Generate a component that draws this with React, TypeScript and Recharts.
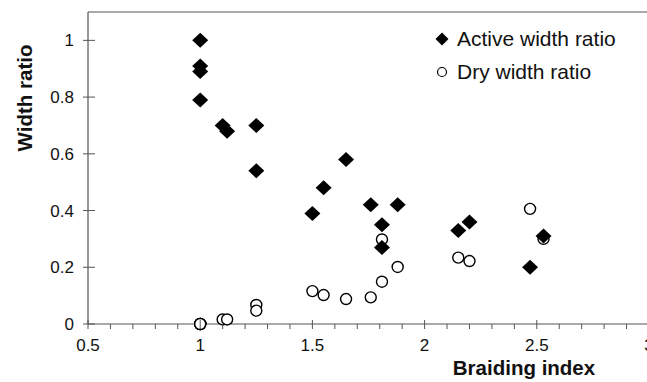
import { ReferenceLine, Scatter, ScatterChart, XAxis, YAxis } from "recharts";

type Pt = { x: number; y: number };

const seriesNames = ["Active width ratio", "Dry width ratio"];

const activeX = [1, 1, 1, 1, 1.1, 1.12, 1.25, 1.25, 1.5, 1.55, 1.65, 1.76, 1.81, 1.81, 1.88, 2.15, 2.2, 2.47, 2.53];
const activeY = [1.0, 0.91, 0.89, 0.79, 0.7, 0.68, 0.7, 0.54, 0.39, 0.48, 0.58, 0.42, 0.35, 0.27, 0.42, 0.33, 0.36, 0.2, 0.31];

const dryX = [1, 1, 1, 1, 1.1, 1.12, 1.25, 1.25, 1.5, 1.55, 1.65, 1.76, 1.81, 1.81, 1.88, 2.15, 2.2, 2.47, 2.53];
const dryY = [0, 0, 0, 0, 0.016, 0.016, 0.067, 0.047, 0.116, 0.102, 0.088, 0.094, 0.149, 0.298, 0.201, 0.234, 0.222, 0.406, 0.3];

const xTicks = [0.5, 0.6, 0.7, 0.8, 0.9, 1, 1.1, 1.2, 1.3, 1.4, 1.5, 1.6, 1.7, 1.8, 1.9, 2, 2.1, 2.2, 2.3, 2.4, 2.5, 2.6, 2.7, 2.8, 2.9, 3];
const xLabels = [0.5, 1, 1.5, 2, 2.5, 3];
const yTicks = [0, 0.2, 0.4, 0.6, 0.8, 1];

const activeData: Pt[] = activeX.map((x, i) => ({ x, y: activeY[i] }));
const dryData: Pt[] = dryX.map((x, i) => ({ x, y: dryY[i] }));

const font = "'Liberation Sans', Arial, sans-serif";
const axisColor = "#555";

const Diamond = (props: any) => {
  const { cx, cy } = props;
  if (cx == null || cy == null) return null;
  return <polygon points={`${cx},${cy - 7.5} ${cx + 8},${cy} ${cx},${cy + 7.5} ${cx - 8},${cy}`} fill="#000" />;
};

const Ring = (props: any) => {
  const { cx, cy } = props;
  if (cx == null || cy == null) return null;
  return <circle cx={cx} cy={cy} r={5.5} fill="#fff" stroke="#000" strokeWidth={1.4} />;
};

const XTick = (props: any) => {
  const { x, y, payload } = props;
  const v = Math.round(payload.value * 10) / 10;
  const major = xLabels.includes(v);
  return (
    <g>
      <line x1={x} x2={x} y1={major ? y - 4 : y} y2={y + 5} stroke={axisColor} strokeWidth={1} />
      {major && (
        <text x={x} y={y + 27} textAnchor="middle" fontSize={17} fontFamily={font} fill="#111">
          {String(v)}
        </text>
      )}
    </g>
  );
};

const YTick = (props: any) => {
  const { x, y, payload } = props;
  return (
    <g>
      <line x1={x - 5} x2={x + 7} y1={y} y2={y} stroke={axisColor} strokeWidth={1} />
      <text x={x - 14} y={y + 6} textAnchor="end" fontSize={17} fontFamily={font} fill="#111">
        {String(payload.value)}
      </text>
    </g>
  );
};

const LegendBox = () => (
  <svg width={220} height={60} style={{ position: "absolute", left: 432, top: 31, overflow: "visible" }}>
    <polygon points="10,1.5 16.5,8 10,14.5 3.5,8" fill="#000" />
    <text x={25} y={15} fontSize={21} fontFamily={font} fill="#111">
      {seriesNames[0]}
    </text>
    <circle cx={10} cy={41} r={4.5} fill="#fff" stroke="#000" strokeWidth={1.2} />
    <text x={25} y={48} fontSize={21} fontFamily={font} fill="#111">
      {seriesNames[1]}
    </text>
  </svg>
);

export default function App() {
  return (
    <div style={{ position: "absolute", left: 0, top: 0, width: 647, height: 382, overflow: "hidden", background: "#fff" }}>
      <ScatterChart width={650} height={382} margin={{ top: 12, right: 1, bottom: 0, left: 0 }}>
        <XAxis
          type="number"
          dataKey="x"
          domain={[0.5, 3]}
          ticks={xTicks}
          interval={0}
          height={58}
          tickSize={0}
          tickMargin={0}
          tickLine={false}
          tick={<XTick />}
          axisLine={{ stroke: axisColor, strokeWidth: 1.2 }}
          label={{
            content: () => (
              <text x={524} y={375} textAnchor="middle" fontSize={20.5} fontWeight="bold" fontFamily={font} fill="#111">
                Braiding index
              </text>
            ),
          }}
        />
        <YAxis
          type="number"
          dataKey="y"
          domain={[0, 1.1]}
          ticks={yTicks}
          interval={0}
          width={88}
          tickSize={0}
          tickMargin={0}
          tickLine={false}
          tick={<YTick />}
          axisLine={{ stroke: axisColor, strokeWidth: 1.2 }}
          label={{
            content: () => (
              <text
                x={32}
                y={98}
                transform="rotate(-90 32 98)"
                textAnchor="middle"
                fontSize={20.5}
                fontWeight="bold"
                fontFamily={font}
                fill="#111"
              >
                Width ratio
              </text>
            ),
          }}
        />
        <ReferenceLine y={1.1} stroke={axisColor} strokeWidth={1.2} />
        <ReferenceLine x={3} stroke={axisColor} strokeWidth={1.2} />
        <Scatter name={seriesNames[1]} data={dryData} shape={<Ring />} isAnimationActive={false} />
        <Scatter name={seriesNames[0]} data={activeData} shape={<Diamond />} isAnimationActive={false} />
      </ScatterChart>
      <LegendBox />
    </div>
  );
}
